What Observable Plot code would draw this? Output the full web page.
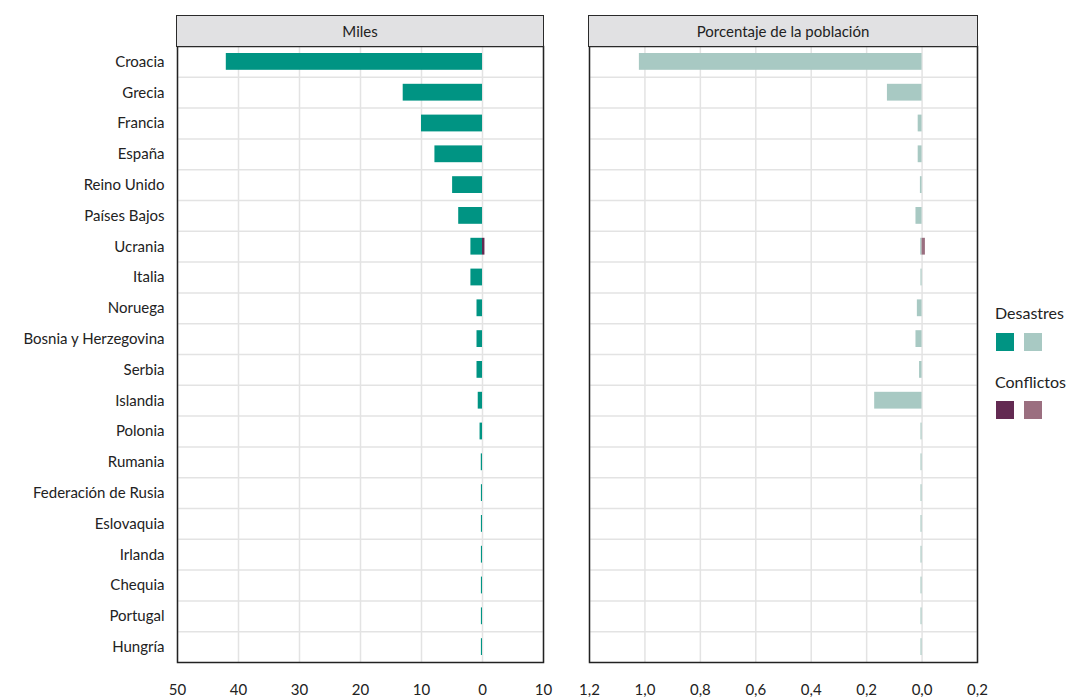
<!DOCTYPE html>
<html><head><meta charset="utf-8">
<script src="https://cdn.jsdelivr.net/npm/d3@7"></script>
<script src="https://cdn.jsdelivr.net/npm/@observablehq/plot@0.6"></script>
<style>
body{margin:0;background:#fff;font-family:Lato,"Open Sans",sans-serif;color:#222;}
#wrap{position:relative;width:1075px;height:699px;overflow:hidden;background:#fff;}
.strip{position:absolute;top:15px;height:32px;box-sizing:border-box;background:#e1e1e3;border:1.5px solid #2a2a2a;
  font-size:15px;line-height:30px;text-align:center;color:#222;}
.panel{position:absolute;top:45px;}
.leg{position:absolute;font-size:16px;color:#222;}
.sw{position:absolute;width:18px;height:18px;}
</style></head>
<body><div id="wrap"></div>
<script>
const countries = ["Croacia","Grecia","Francia","España","Reino Unido","Países Bajos","Ucrania","Italia","Noruega","Bosnia y Herzegovina","Serbia","Islandia","Polonia","Rumania","Federación de Rusia","Eslovaquia","Irlanda","Chequia","Portugal","Hungría"];
const desastresMiles = [42, 13, 10, 7.8, 4.9, 3.9, 1.9, 1.9, 0.9, 0.9, 0.9, 0.7, 0.4, 0.2, 0.18, 0.18, 0.18, 0.18, 0.18, 0.18];
const conflictosMiles = [0, 0, 0, 0, 0, 0, 0.4, 0, 0, 0, 0, 0, 0, 0, 0, 0, 0, 0, 0, 0];
const desastresPct = [1.02, 0.125, 0.014, 0.014, 0.006, 0.022, 0.005, 0.004, 0.017, 0.022, 0.009, 0.171, 0.004, 0.004, 0.004, 0.004, 0.004, 0.004, 0.004, 0.004];
const conflictosPct = [0, 0, 0, 0, 0, 0, 0.012, 0, 0, 0, 0, 0, 0, 0, 0, 0, 0, 0, 0, 0];
const milesTicks = [50, 40, 30, 20, 10, 0, -10];
const pctTicks = [1.2, 1.0, 0.8, 0.6, 0.4, 0.2, 0.0, -0.2];
const series = ["Desastres", "Conflictos"];
const darkColors = ["#009483", "#632a52"];
const lightColors = ["#a8c9c3", "#9b6f80"];

const wrap = document.getElementById("wrap");
const areaH = 616;
const step = areaH / countries.length;

function rows(des, con) {
  return countries.flatMap((c, i) => [
    {pais: c, tipo: "Desastres", v: des[i]},
    {pais: c, tipo: "Conflictos", v: -con[i]}
  ]).filter(d => d.v !== 0);
}

function panel({data, domain, ticks, fmt, colors, width, ml, mr, showY}) {
  return Plot.plot({
    width, height: 654, marginLeft: ml, marginRight: mr, marginTop: 1, marginBottom: 654 - 1 - areaH,
    style: {fontFamily: "Lato, 'Open Sans', sans-serif", fontSize: "15px", color: "#222", background: "transparent", overflow: "visible"},
    x: {domain, ticks, tickFormat: fmt},
    y: {domain: countries, padding: 0, round: false, axis: showY ? undefined : null},
    color: {domain: series, range: colors},
    marks: [
      Plot.ruleX(ticks, {stroke: "#e3e3e3", strokeWidth: 1.5}),
      Plot.ruleY(countries.slice(1), {dy: -step / 2, stroke: "#e3e3e3", strokeWidth: 1.5}),
      Plot.barX(data, {x: "v", y: "pais", fill: "tipo", insetTop: 7, insetBottom: 7}),
      Plot.frame({stroke: "#222", strokeWidth: 1.5}),
      Plot.axisX({ticks, tickFormat: fmt, tickSize: 0, tickPadding: 22, label: null, fontSize: 15}),
      showY ? Plot.axisY({tickSize: 0, tickPadding: 13, label: null, fontSize: 15}) : null
    ]
  });
}

const left = panel({
  data: rows(desastresMiles, conflictosMiles), domain: [50, -10], ticks: milesTicks,
  fmt: d => String(Math.abs(d)), colors: darkColors, width: 545, ml: 177, mr: 2, showY: true
});
left.classList.add("panel"); left.style.left = "0px";
wrap.appendChild(left);

const right = panel({
  data: rows(desastresPct, conflictosPct), domain: [1.2, -0.2], ticks: pctTicks,
  fmt: d => Math.abs(d).toFixed(1).replace(".", ","), colors: lightColors, width: 428, ml: 20, mr: 20, showY: false
});
right.classList.add("panel"); right.style.left = "569px";
wrap.appendChild(right);

function strip(text, x, w) {
  const d = document.createElement("div");
  d.className = "strip"; d.style.left = x + "px"; d.style.width = w + "px";
  d.textContent = text; wrap.appendChild(d);
}
strip("Miles", 176, 368);
strip("Porcentaje de la población", 588, 390);

function leg(text, y) {
  const d = document.createElement("div");
  d.className = "leg"; d.style.left = "995px"; d.style.top = y + "px";
  d.textContent = text; wrap.appendChild(d);
}
function sw(color, x, y) {
  const d = document.createElement("div");
  d.className = "sw"; d.style.left = x + "px"; d.style.top = y + "px"; d.style.background = color;
  wrap.appendChild(d);
}
leg(series[0], 303); sw(darkColors[0], 996, 333); sw(lightColors[0], 1024, 333);
leg(series[1], 372); sw(darkColors[1], 996, 401); sw(lightColors[1], 1024, 401);
</script>
</body></html>
